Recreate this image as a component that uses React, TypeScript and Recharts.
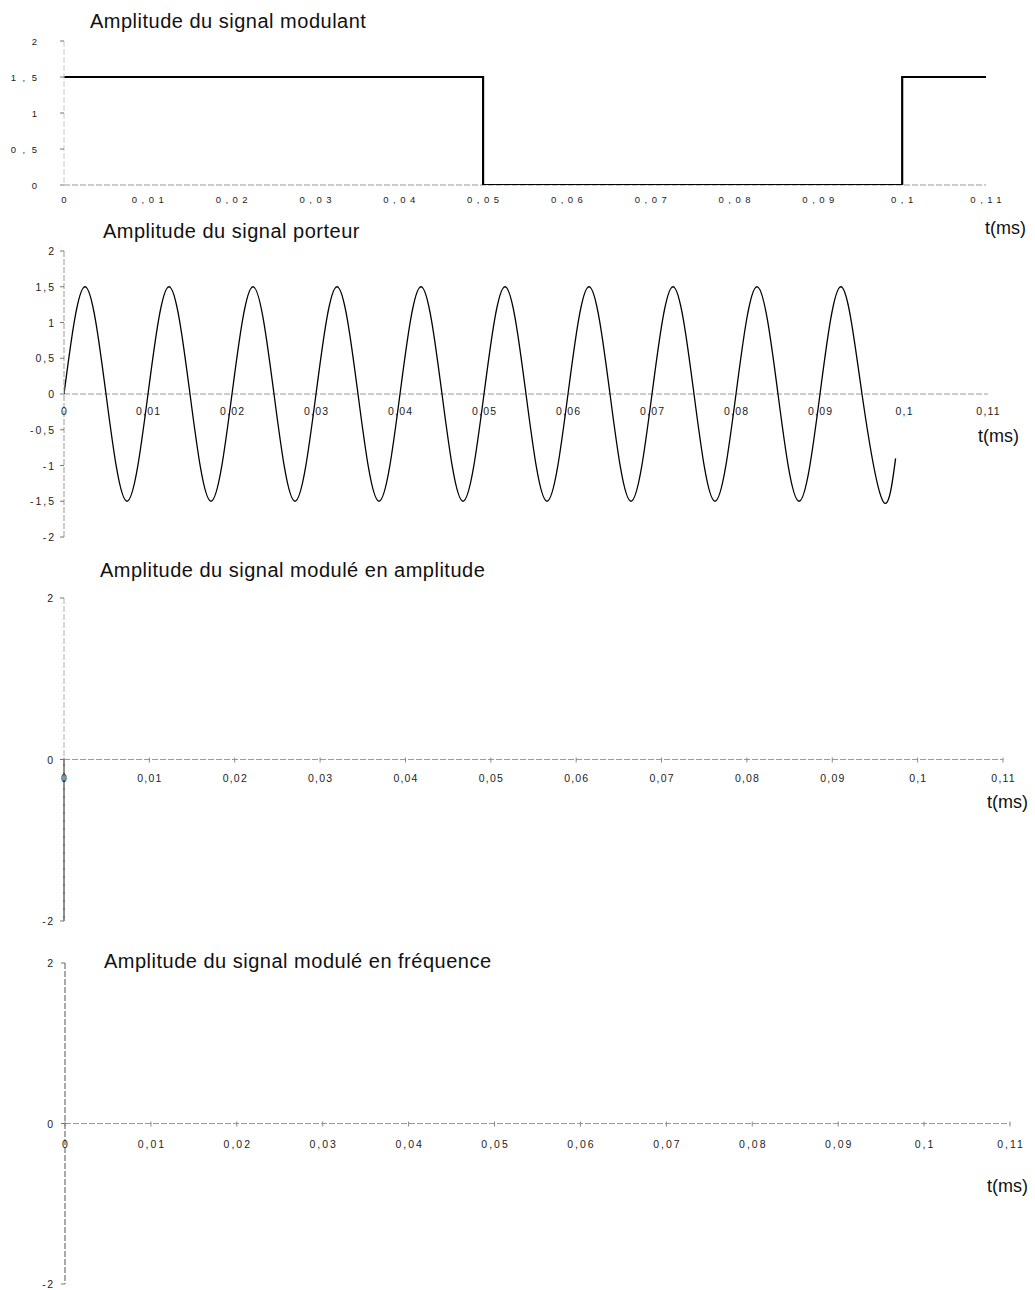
import type { ReactNode } from 'react'
import { Line, LineChart, ReferenceLine, XAxis, YAxis } from 'recharts'

const FONT = '"Liberation Sans", Arial, Helvetica, sans-serif'

// axe des temps commun aux quatre graphes (ms)
const X_TICKS = [0, 0.01, 0.02, 0.03, 0.04, 0.05, 0.06, 0.07, 0.08, 0.09, 0.1, 0.11]

const Y_TICKS_MOD = [0, 0.5, 1, 1.5, 2]
const Y_TICKS_CAR = [-2, -1.5, -1, -0.5, 0, 0.5, 1, 1.5, 2]
const Y_TICKS_EMPTY = [-2, 0, 2]

// signal modulant : créneau 1,5 puis 0 puis 1,5 (tracé en escalier)
const modT = [0, 0.05, 0.1, 0.11]
const modV = [1.5, 0, 1.5, 1.5]

// porteuse : crêtes, passages à zéro et creux relevés à chaque quart de période
const carT = [
  0, 0.0025, 0.005, 0.0075, 0.01, 0.0125, 0.015, 0.0175, 0.02, 0.0225, 0.025,
  0.0275, 0.03, 0.0325, 0.035, 0.0375, 0.04, 0.0425, 0.045, 0.0475, 0.05,
  0.0525, 0.055, 0.0575, 0.06, 0.0625, 0.065, 0.0675, 0.07, 0.0725, 0.075,
  0.0775, 0.08, 0.0825, 0.085, 0.0875, 0.09, 0.0925, 0.095, 0.0975, 0.099,
]
const carV = [
  0, 1.5, 0, -1.5, 0, 1.5, 0, -1.5, 0, 1.5, 0, -1.5, 0, 1.5, 0, -1.5, 0, 1.5,
  0, -1.5, 0, 1.5, 0, -1.5, 0, 1.5, 0, -1.5, 0, 1.5, 0, -1.5, 0, 1.5, 0, -1.5,
  0, 1.5, 0, -1.5, -0.9,
]

type Pt = { t: number; v: number }
const zip = (ts: number[], vs: number[]): Pt[] => ts.map((t, i) => ({ t, v: vs[i] }))

const modData = zip(modT, modV)
const carData = zip(carT, carV)

const fr = (v: number) => String(v).replace('.', ',')

type LabelStyle = { size: number; spacing: number }

type PanelProps = {
  top: number
  height: number
  left: number
  right: number
  plotTop: number
  plotBottom: number
  yDomain: [number, number]
  yTicks: number[]
  data: Pt[]
  xLabel: LabelStyle & { gap: number; marks?: boolean }
  yLabel: LabelStyle & { right: number }
  yAxisColor: string
  children?: ReactNode
}

function Panel(p: PanelProps) {
  const [yMin, yMax] = p.yDomain
  const plotTopLocal = p.plotTop - p.top
  const plotH = p.plotBottom - p.plotTop
  // the time axis crosses at amplitude 0, which may sit mid-plot
  const zeroY = plotTopLocal + (plotH * yMax) / (yMax - yMin)
  const xAxisH = p.height - (p.plotBottom - p.top)

  const xTick = (tp: any) => (
    <g>
      {p.xLabel.marks && (
        <line x1={tp.x} x2={tp.x} y1={zeroY - 2} y2={zeroY + 3} stroke="#888" />
      )}
      <text
        x={tp.x + p.xLabel.spacing / 2}
        y={zeroY + p.xLabel.gap}
        textAnchor="middle"
        dominantBaseline="central"
        fontSize={p.xLabel.size}
        letterSpacing={p.xLabel.spacing}
        fontFamily={FONT}
        fill="#222"
      >
        {fr(tp.payload.value)}
      </text>
    </g>
  )

  const yTick = (tp: any) => (
    <text
      x={p.yLabel.right + p.yLabel.spacing}
      y={tp.y}
      textAnchor="end"
      dominantBaseline="central"
      fontSize={p.yLabel.size}
      letterSpacing={p.yLabel.spacing}
      fontFamily={FONT}
      fill="#222"
    >
      {fr(tp.payload.value)}
    </text>
  )

  return (
    <div style={{ position: 'absolute', left: 0, top: p.top }}>
      <LineChart
        width={1035}
        height={p.height}
        data={p.data}
        margin={{ top: plotTopLocal, right: 1035 - p.right, bottom: 0, left: 0 }}
      >
        <XAxis
          dataKey="t"
          type="number"
          domain={[0, 0.11]}
          ticks={X_TICKS}
          interval={0}
          allowDataOverflow
          axisLine={false}
          tickLine={false}
          height={xAxisH}
          tick={xTick}
        />
        <YAxis
          type="number"
          domain={p.yDomain}
          ticks={p.yTicks}
          interval={0}
          allowDataOverflow
          width={p.left}
          tickSize={4}
          axisLine={{ stroke: p.yAxisColor, strokeDasharray: '6 2' }}
          tickLine={{ stroke: '#777' }}
          tick={yTick}
        />
        <ReferenceLine y={0} stroke="#9a9a9a" strokeDasharray="6 2" />
        {p.children}
      </LineChart>
    </div>
  )
}

const titleStyle = { fontSize: 20, letterSpacing: 0.5, fill: '#111', fontFamily: FONT }
const unitStyle = { fontSize: 18, fill: '#111', fontFamily: FONT }

export default function App() {
  return (
    <div
      style={{
        position: 'absolute',
        left: 0,
        top: 0,
        width: 1035,
        height: 1290,
        background: '#fff',
        overflow: 'hidden',
      }}
    >
      <Panel
        top={30}
        height={195}
        left={64}
        right={986}
        plotTop={41}
        plotBottom={185}
        yDomain={[0, 2]}
        yTicks={Y_TICKS_MOD}
        data={modData}
        xLabel={{ size: 9.5, spacing: 4.5, gap: 14 }}
        yLabel={{ size: 9.5, spacing: 6.5, right: 37 }}
        yAxisColor="#c8c8c8"
      >
        <Line
          dataKey="v"
          type="stepAfter"
          stroke="#000"
          strokeWidth={2.2}
          dot={false}
          isAnimationActive={false}
        />
      </Panel>

      <Panel
        top={245}
        height={312}
        left={64}
        right={988}
        plotTop={251}
        plotBottom={537}
        yDomain={[-2, 2]}
        yTicks={Y_TICKS_CAR}
        data={carData}
        xLabel={{ size: 10.5, spacing: 1.2, gap: 17 }}
        yLabel={{ size: 10.5, spacing: 2, right: 54 }}
        yAxisColor="#999"
      >
        <Line
          dataKey="v"
          type="natural"
          stroke="#000"
          strokeWidth={1.3}
          dot={false}
          isAnimationActive={false}
        />
      </Panel>

      <Panel
        top={590}
        height={351}
        left={64}
        right={1003}
        plotTop={598}
        plotBottom={921}
        yDomain={[-2, 2]}
        yTicks={Y_TICKS_EMPTY}
        data={[]}
        xLabel={{ size: 10.5, spacing: 1.2, gap: 18, marks: true }}
        yLabel={{ size: 10.5, spacing: 1.5, right: 53 }}
        yAxisColor="#b0b0b0"
      >
        <ReferenceLine
          segment={[
            { x: 0, y: 0 },
            { x: 0, y: -2 },
          ]}
          stroke="#111"
          strokeWidth={1.2}
        />
      </Panel>

      <Panel
        top={955}
        height={334}
        left={65}
        right={1010}
        plotTop={963}
        plotBottom={1284}
        yDomain={[-2, 2]}
        yTicks={Y_TICKS_EMPTY}
        data={[]}
        xLabel={{ size: 10.5, spacing: 2, gap: 20, marks: true }}
        yLabel={{ size: 10.5, spacing: 1.5, right: 53 }}
        yAxisColor="#555"
      />

      <svg
        width={1035}
        height={1290}
        style={{ position: 'absolute', left: 0, top: 0, pointerEvents: 'none' }}
      >
        <text x={90} y={28} {...titleStyle}>Amplitude du signal modulant</text>
        <text x={103} y={238} {...titleStyle}>Amplitude du signal porteur</text>
        <text x={100} y={577} {...titleStyle}>Amplitude du signal modulé en amplitude</text>
        <text x={104} y={968} {...titleStyle}>Amplitude du signal modulé en fréquence</text>

        <text x={985} y={234} {...unitStyle}>t(ms)</text>
        <text x={978} y={442} {...unitStyle}>t(ms)</text>
        <text x={987} y={808} {...unitStyle}>t(ms)</text>
        <text x={987} y={1192} {...unitStyle}>t(ms)</text>
      </svg>
    </div>
  )
}
